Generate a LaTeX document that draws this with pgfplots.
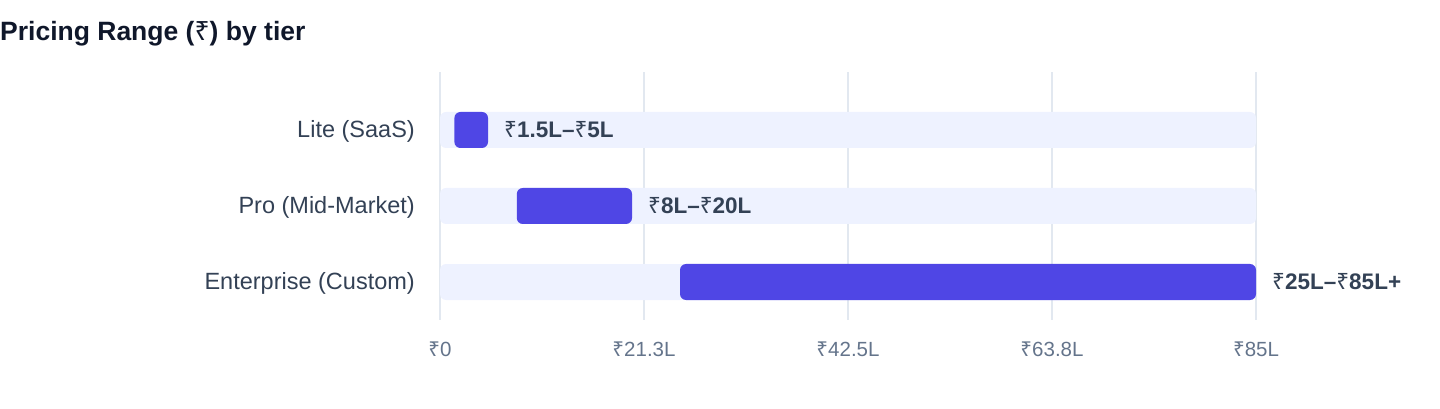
\documentclass[border=0pt]{standalone}
\usepackage{pgfplots}
\pgfplotsset{compat=1.18}
\usepackage{fontspec}
\setmainfont{Liberation Sans}
\newfontfamily\rsfont{Noto Sans}
\protected\def\rs{{\rsfont ₹}}

\definecolor{barfill}{HTML}{4F46E5}
\definecolor{track}{HTML}{EEF2FF}
\definecolor{gridc}{HTML}{E2E8F0}
\definecolor{ticktxt}{HTML}{64748B}
\definecolor{labtxt}{HTML}{334155}
\definecolor{titletxt}{HTML}{0F172A}

\pgfplotsset{
    tierbase/.style={
        scale only axis,
        width=816pt, height=248pt,
        at={(440pt,88pt)}, anchor=south west,
        xmin=0, xmax=85,
        ymin=-0.5, ymax=2.763,
        bar width=36pt,
    }
}

\begin{document}
\begin{tikzpicture}[x=1pt,y=1pt]
    \useasboundingbox (0,0) rectangle (1440,408);
    \node[anchor=base west, inner sep=0, text=titletxt,
          font=\fontsize{26.5}{31}\selectfont\bfseries] at (0,367)
          {Pricing Range (\rs) by tier};

    % background tracks, grid and tick labels
    \begin{axis}[
        tierbase,
        xbar,
        axis line style={draw=none},
        major tick length=0pt,
        xmajorgrids,
        grid style={gridc, line width=1.5pt},
        xtick={0,21.25,42.5,63.75,85},
        xticklabels={\rs0,\rs21.3L,\rs42.5L,\rs63.8L,\rs85L},
        xticklabel style={anchor=center, yshift=-29pt, text=ticktxt,
            font=\fontsize{20.5}{24}\selectfont},
        ytick={0,1,2},
        yticklabels={Enterprise (Custom),Pro (Mid-Market),Lite (SaaS)},
        yticklabel style={anchor=east, inner sep=0pt, xshift=-25pt, yshift=-1pt,
            text=labtxt, font=\fontsize{23.5}{28}\selectfont},
    ]
    \addplot[draw=none, fill=track, rounded corners=6pt] coordinates {
        (85,0) (85,1) (85,2)
    };
    \end{axis}

    % price ranges: invisible offset + visible range
    \begin{axis}[
        tierbase,
        hide axis,
        xbar stacked,
    ]
    \addplot[draw=none, fill=none] coordinates {
        (25,0) (8,1) (1.5,2)
    };
    \addplot[draw=none, fill=barfill, rounded corners=6pt] coordinates {
        (60,0) (12,1) (3.5,2)
    };
    \end{axis}

    % range labels at the upper end of each range
    \begin{axis}[
        tierbase,
        hide axis,
    ]
    \addplot[only marks, mark=none,
        nodes near coords,
        point meta=explicit symbolic,
        every node near coord/.append style={anchor=west, inner sep=0pt,
            xshift=16pt, text=labtxt,
            font=\fontsize{22.5}{27}\selectfont\bfseries},
    ] coordinates {
        (85,0) [\rs25L–\rs85L+]
        (20,1) [\rs8L–\rs20L]
        (5,2) [\rs1.5L–\rs5L]
    };
    \end{axis}
\end{tikzpicture}
\end{document}
